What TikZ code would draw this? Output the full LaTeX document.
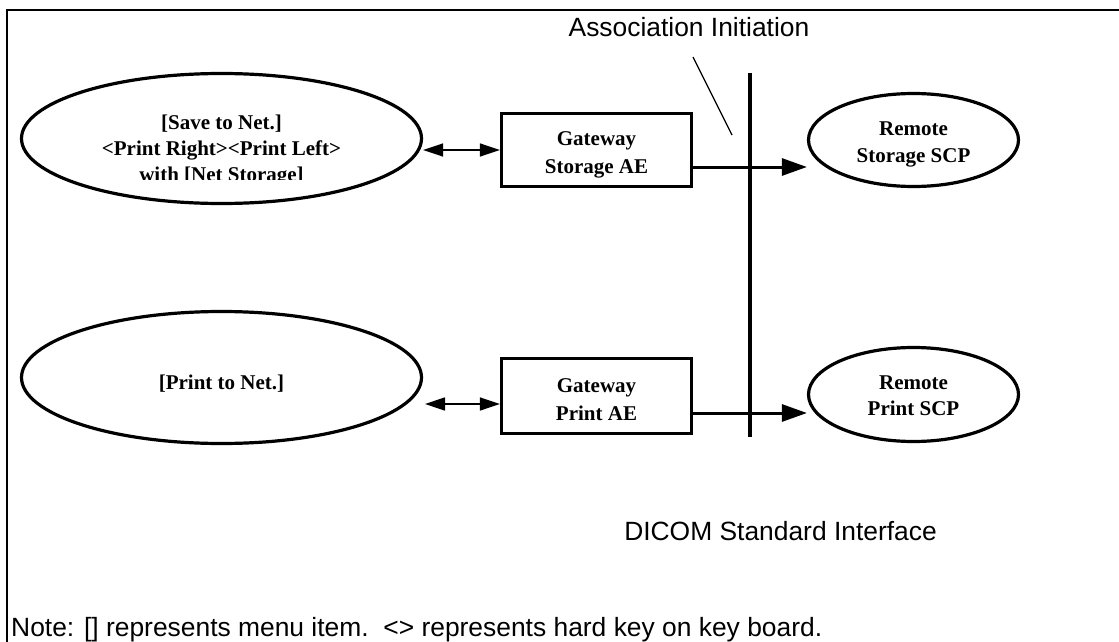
\documentclass[tikz,border=0pt]{standalone}
\usepackage{fontspec}
\setmainfont{Liberation Serif}
\setsansfont{Liberation Sans}
\usetikzlibrary{shapes.geometric,arrows.meta}
\begin{document}
\begin{tikzpicture}[x=1pt,y=-1pt,
  ell/.style={draw,ellipse,line width=3.2pt,inner sep=0pt},
  gbox/.style={draw,rectangle,line width=3.2pt,inner sep=0pt,minimum width=190pt},
  lbl/.style={font=\bfseries\fontsize{21}{28}\selectfont,align=center,inner sep=0pt},
  sans/.style={font=\sffamily\fontsize{26.4}{30}\selectfont,inner sep=0pt},
  dbl/.style={line width=1.5pt,{Triangle[length=20pt,width=13pt]}-{Triangle[length=20pt,width=13pt]}},
  fwd/.style={line width=3pt,-{Triangle[length=25pt,width=17pt]}},
  thinline/.style={line width=1.3pt},
]
\useasboundingbox (0,0) rectangle (1119,642);
\draw[line width=2pt] (7,642) -- (7,10.5) -- (1119,10.5);

% left ellipses
\node[ell,minimum width=400pt,minimum height=130pt] (ell1) at (221.5,138.5) {};
\begin{scope}
  \clip (0,0) rectangle (1119,179);
  \node[lbl,font=\bfseries\fontsize{21}{26}\selectfont] (t1) at (221.5,151) {[Save to Net.]\\<Print Right><Print Left>\\with [Net Storage]};
\end{scope}
\node[ell,minimum width=400pt,minimum height=132pt] (ell2) at (221.5,377.5) {};
\node[lbl] (t2) at (221.5,384) {[Print to Net.]};

% gateway boxes
\node[gbox,minimum height=73pt] (box1) at (596.5,150) {};
\node[lbl] (tb1) at (596.5,155) {Gateway\\Storage AE};
\node[gbox,minimum height=75pt] (box2) at (596.5,396) {};
\node[lbl] (tb2) at (596.5,399.5) {Gateway\\Print AE};

% remote ellipses
\node[ell,minimum width=210pt,minimum height=93pt] (rs) at (913.5,140) {};
\node[lbl,font=\bfseries\fontsize{21}{27}\selectfont] (trs) at (913.5,144) {Remote\\Storage SCP};
\node[ell,minimum width=210pt,minimum height=94pt] (rp) at (913.5,394.5) {};
\node[lbl,font=\bfseries\fontsize{21}{26}\selectfont] (trp) at (913.5,395.5) {Remote\\Print SCP};

% interface line
\coordinate (vtop) at (750,73);
\coordinate (vbot) at (750,437);
\draw[line width=3.5pt] (vtop) -- (vbot);

% connectors
\draw[dbl] (ell1.east |- box1.west) -- (box1.west);
\coordinate (a2) at (425,404);
\draw[dbl] (a2) -- (box2.west |- a2);
\draw[fwd] ([yshift=-17pt]box1.east) -- ([yshift=-27pt]rs.west);
\draw[fwd] ([yshift=-17pt]box2.east) -- ([yshift=-18.5pt]rp.west);

% association initiation
\node[sans,anchor=base] (assoc) at (689,37) {Association Initiation};
\coordinate (ld1) at (693,57);
\coordinate (ld2) at (732,135);
\draw[thinline] (ld1) -- (ld2);

\node[sans,anchor=base east] (dicom) at (937,540) {DICOM Standard Interface};
\node[sans,anchor=base west] (note) at (11,636) {Note: [] represents menu item.\ \ <> represents hard key on key board.};
\end{tikzpicture}
\end{document}
